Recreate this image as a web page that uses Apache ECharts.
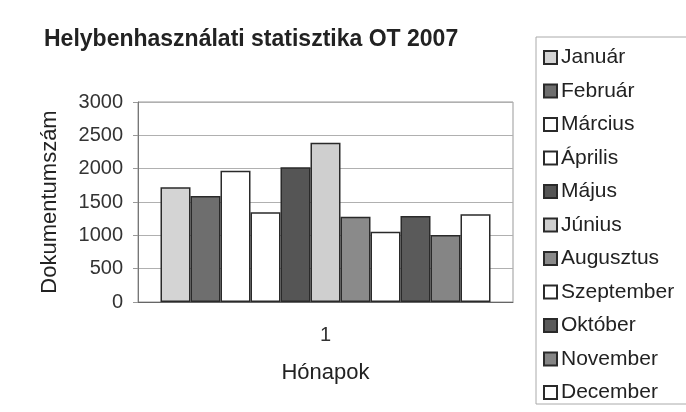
<!DOCTYPE html>
<html><head><meta charset="utf-8">
<script src="https://cdn.jsdelivr.net/npm/echarts@6/dist/echarts.min.js"></script>
<style>html,body{margin:0;padding:0;background:#fff}#c{width:686px;height:412px}</style>
</head><body><div id="c"></div>
<script>
const categories = ['1'];
const months = ['Január','Február','Március','Április','Május','Június','Augusztus','Szeptember','Október','November','December'];
const values = [1720, 1590, 1970, 1345, 2020, 2390, 1280, 1055, 1290, 1005, 1315];
const colors = ['#d4d4d4','#6e6e6e','#ffffff','#ffffff','#555555','#cfcfcf','#8a8a8a','#ffffff','#5a5a5a','#858585','#ffffff'];
const yTicks = [0, 500, 1000, 1500, 2000, 2500, 3000];

const FONT = '"Liberation Sans", Arial, sans-serif';
const chart = echarts.init(document.getElementById('c'));
chart.setOption({
  animation: false,
  backgroundColor: '#fff',
  textStyle: { fontFamily: FONT },
  title: {
    text: 'Helybenhasználati statisztika OT 2007',
    left: 39, top: 23,
    textStyle: { fontFamily: FONT, fontSize: 23, fontWeight: 'bold', color: '#222' }
  },
  legend: {
    orient: 'vertical',
    left: 536, top: 37, height: 372,
    padding: [10, 30, 1, 7],
    borderColor: '#aaa', borderWidth: 1,
    itemWidth: 13, itemHeight: 13, itemGap: 12.5,
    icon: 'rect',
    textStyle: { fontFamily: FONT, fontSize: 21, color: '#222', lineHeight: 20, padding: [0, 0, 0, -1] },
    data: months
  },
  grid: {
    left: 138, right: 173, top: 102, bottom: 110,
    show: true, borderColor: '#999', borderWidth: 1
  },
  xAxis: {
    type: 'category', data: categories,
    name: 'Hónapok', nameLocation: 'middle', nameGap: 60,
    nameTextStyle: { fontFamily: FONT, fontSize: 22, color: '#222' },
    axisLine: { lineStyle: { color: '#666', width: 1 } },
    axisTick: { show: false },
    axisLabel: { fontFamily: FONT, fontSize: 20, color: '#333', margin: 23 }
  },
  yAxis: {
    type: 'value', min: 0, max: 3000, interval: 500,
    name: 'Dokumentumszám', nameLocation: 'middle', nameGap: 77,
    nameTextStyle: { fontFamily: FONT, fontSize: 22, color: '#222' },
    axisLine: { show: true, lineStyle: { color: '#777' } },
    axisTick: { show: true, length: 5, lineStyle: { color: '#999' } },
    axisLabel: { fontFamily: FONT, fontSize: 20, color: '#333', margin: 15,
      formatter: v => String(v) },
    splitLine: { lineStyle: { color: '#b0b0b0', width: 1 } }
  },
  series: months.map((m, i) => ({
    name: m, type: 'bar',
    data: [values[i]],
    barGap: '0%', barCategoryGap: '12%',
    itemStyle: { color: colors[i], borderColor: '#2a2a2a', borderWidth: 1.5 }
  }))
});
</script></body></html>
